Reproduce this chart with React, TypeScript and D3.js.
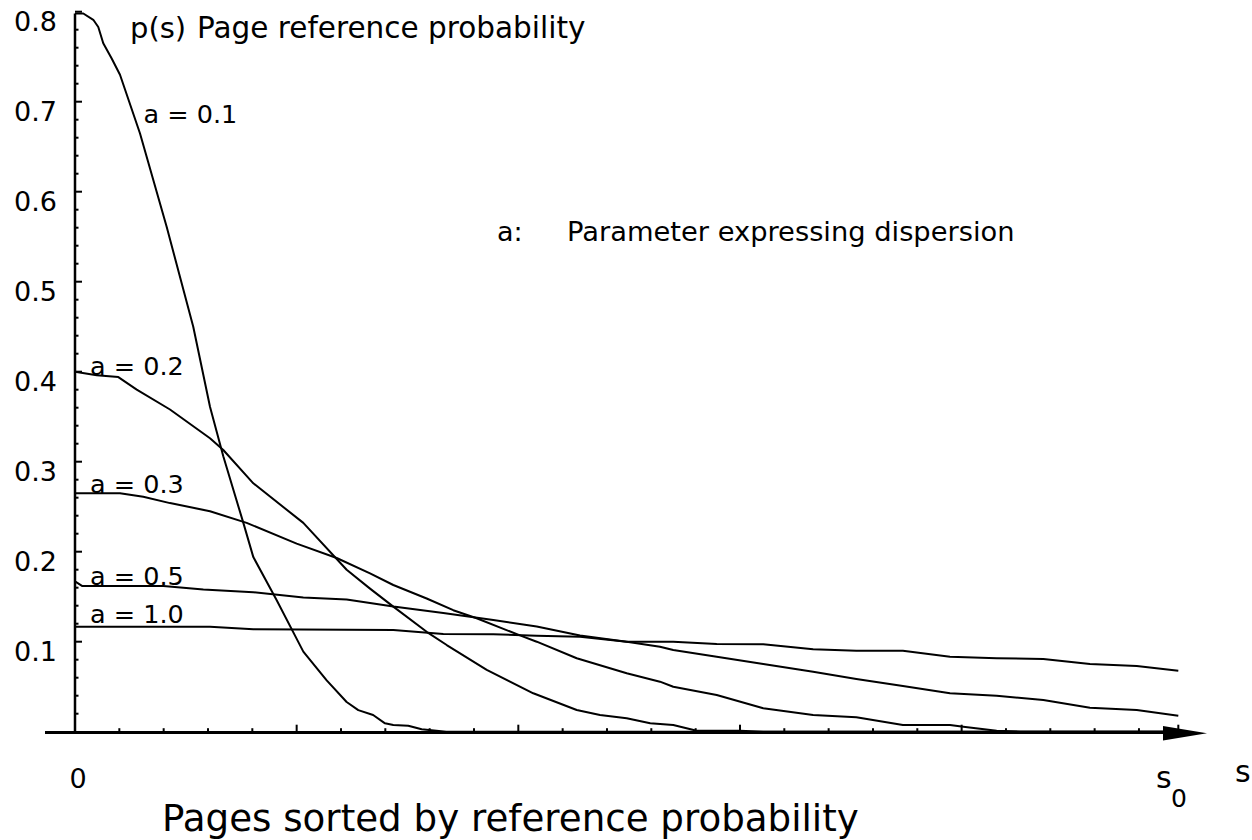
import React from "react";
import * as d3 from "d3";

// ---- data ----
const S0 = 99.55;
const yTickValues = [0.1, 0.2, 0.3, 0.4, 0.5, 0.6, 0.7, 0.8];
const yTickLabels = ["0.1", "0.2", "0.3", "0.4", "0.5", "0.6", "0.7", "0.8"];
const xMajorTicks = [20, 40, 60, 80];

const s01 = [0, 0.75, 1.65, 2.1, 2.55, 3.31, 4.06, 5.86, 8.27, 10.67, 12.18, 13.38, 15.19, 16.09, 18.2, 20.6, 22.71, 24.51, 25.56, 26.9, 27.97, 28.72, 30.07, 31.28, 33.5, 99.55];
const p01 = [0.798, 0.798, 0.791, 0.783, 0.765, 0.748, 0.73, 0.665, 0.561, 0.45, 0.361, 0.306, 0.232, 0.194, 0.146, 0.089, 0.057, 0.033, 0.024, 0.0186, 0.0093, 0.0074, 0.0067, 0.0027, 0, 0];

const s02 = [0, 1.96, 3.91, 5.57, 8.57, 12.18, 13.38, 16.09, 20.6, 24.51, 26.62, 28.72, 31.73, 33.54, 37.15, 41.35, 45.27, 47.37, 49.78, 51.9, 53.98, 56.1, 60.0, 62.1, 99.55];
const p02 = [0.4, 0.396, 0.394, 0.38, 0.358, 0.326, 0.313, 0.276, 0.232, 0.18, 0.159, 0.139, 0.111, 0.0963, 0.0686, 0.0427, 0.0241, 0.0186, 0.0149, 0.0093, 0.0074, 0.0011, 0.0011, 0, 0];

const s03 = [0, 4.06, 6.16, 8.57, 12.18, 15.49, 20.0, 23.61, 26.62, 28.72, 31.73, 34.13, 36.24, 40.15, 41.66, 45.27, 49.78, 52.78, 53.98, 57.9, 62.1, 66.6, 70.5, 74.7, 78.95, 80.15, 83.16, 85.3, 99.55];
const p03 = [0.265, 0.265, 0.261, 0.254, 0.245, 0.232, 0.209, 0.193, 0.176, 0.163, 0.148, 0.135, 0.126, 0.107, 0.1, 0.0816, 0.0649, 0.0556, 0.05, 0.0408, 0.026, 0.0186, 0.016, 0.0074, 0.0074, 0.0056, 0.0011, 0, 0];

const s05 = [0, 0.63, 7.97, 11.58, 16.09, 20.6, 24.51, 26.62, 28.72, 33.23, 37.74, 41.66, 45.57, 49.78, 52.78, 53.98, 57.9, 62.1, 66.6, 70.5, 74.7, 78.95, 83.16, 87.37, 91.58, 95.8, 99.55];
const p05 = [0.167, 0.162, 0.162, 0.158, 0.155, 0.149, 0.147, 0.143, 0.139, 0.132, 0.124, 0.117, 0.107, 0.1, 0.0944, 0.0908, 0.0833, 0.0752, 0.0667, 0.0586, 0.0508, 0.0427, 0.04, 0.0352, 0.0267, 0.0241, 0.0178];

const s10 = [0, 12.18, 16.09, 28.72, 33.23, 37.74, 41.66, 45.57, 49.78, 53.98, 57.9, 62.1, 66.6, 70.5, 74.7, 78.95, 83.16, 87.37, 91.58, 95.8, 99.55];
const p10 = [0.1167, 0.1167, 0.1138, 0.113, 0.1086, 0.1082, 0.1067, 0.1056, 0.1, 0.1, 0.0974, 0.0971, 0.0916, 0.09, 0.09, 0.0833, 0.0816, 0.0808, 0.0752, 0.073, 0.0678];

const curveLabels = ["a = 0.1", "a = 0.2", "a = 0.3", "a = 0.5", "a = 1.0"];

export default function App() {
  const x = d3.scaleLinear().domain([0, 100]).range([75, 1183.3]);
  const y = d3.scaleLinear().domain([0, 0.8]).range([731.7, 11.7]);
  const line = d3
    .line<[number, number]>()
    .x((d) => x(d[0]))
    .y((d) => y(d[1]));
  const series = [
    [s01, p01],
    [s02, p02],
    [s03, p03],
    [s05, p05],
    [s10, p10],
  ].map(([s, p]) => s.map((v, i) => [v, p[i]] as [number, number]));

  const yMinor = d3.range(1, 40).map((i) => i * 0.02).filter((v) => Math.abs(v * 10 - Math.round(v * 10)) > 1e-6);
  const xMinor = d3.range(1, 25).map((i) => i * 4).filter((v) => v % 20 !== 0);

  const font = "'DejaVu Sans', Verdana, sans-serif";
  const y0 = y(0);

  return (
    <svg
      width={1252}
      height={840}
      style={{ position: "absolute", left: 0, top: 0, background: "#fff" }}
      fontFamily={font}
    >
      <rect x={0} y={0} width={1252} height={840} fill="#fff" />
      {/* curves */}
      {series.map((d, i) => (
        <path key={i} d={line(d) || ""} fill="none" stroke="#000" strokeWidth={2} strokeLinejoin="round" />
      ))}
      {/* y axis */}
      <line x1={x(0)} x2={x(0)} y1={y0 + 1.5} y2={y(0.798)} stroke="#000" strokeWidth={2.5} />
      {yTickValues.map((v) => (
        <line key={"ym" + v} x1={x(0)} x2={x(0) + 7} y1={y(v)} y2={y(v)} stroke="#000" strokeWidth={2} />
      ))}
      {yMinor.map((v) => (
        <line key={"yn" + v} x1={x(0)} x2={x(0) + 3.5} y1={y(v)} y2={y(v)} stroke="#000" strokeWidth={2} />
      ))}
      {yTickValues.map((v, i) => (
        <text key={"yl" + v} x={57} y={y(v) + 19} fontSize={27} textAnchor="end" fill="#000">
          {yTickLabels[i]}
        </text>
      ))}
      {/* x axis */}
      <line x1={45} x2={1170} y1={y0 + 0.8} y2={y0 + 0.8} stroke="#000" strokeWidth={3} />
      <polygon points={`1163,726 1207,733.2 1163,740.4`} fill="#000" />
      {xMajorTicks.map((v) => (
        <line key={"xm" + v} x1={x(v)} x2={x(v)} y1={y0} y2={y0 - 7} stroke="#000" strokeWidth={2} />
      ))}
      {xMinor.map((v) => (
        <line key={"xn" + v} x1={x(v)} x2={x(v)} y1={y0} y2={y0 - 3.5} stroke="#000" strokeWidth={2} />
      ))}
      <line x1={x(S0)} x2={x(S0)} y1={y0} y2={y0 - 7} stroke="#000" strokeWidth={2} />
      <text x={78} y={788} fontSize={27} textAnchor="middle" fill="#000">0</text>
      <text x={1156} y={788} fontSize={30} fill="#000">s</text>
      <text x={1171} y={806.5} fontSize={25} fill="#000">0</text>
      <text x={1235} y={782} fontSize={30} fill="#000">s</text>
      {/* titles */}
      <text x={130} y={38} fontSize={29} fill="#000">p(s)</text>
      <text x={197} y={38} fontSize={29.5} fill="#000">Page reference probability</text>
      <text x={497} y={241} fontSize={27} fill="#000">a:</text>
      <text x={567} y={241} fontSize={27.3} fill="#000">Parameter expressing dispersion</text>
      <text x={162} y={831} fontSize={37.2} fill="#000">Pages sorted by reference probability</text>
      {/* curve labels */}
      <text x={143.5} y={123.3} fontSize={25.5} fill="#000">{curveLabels[0]}</text>
      <text x={90} y={375} fontSize={25.5} fill="#000">{curveLabels[1]}</text>
      <text x={90} y={492.7} fontSize={25.5} fill="#000">{curveLabels[2]}</text>
      <text x={90} y={585} fontSize={25.5} fill="#000">{curveLabels[3]}</text>
      <text x={90} y={623.3} fontSize={25.5} fill="#000">{curveLabels[4]}</text>
    </svg>
  );
}
